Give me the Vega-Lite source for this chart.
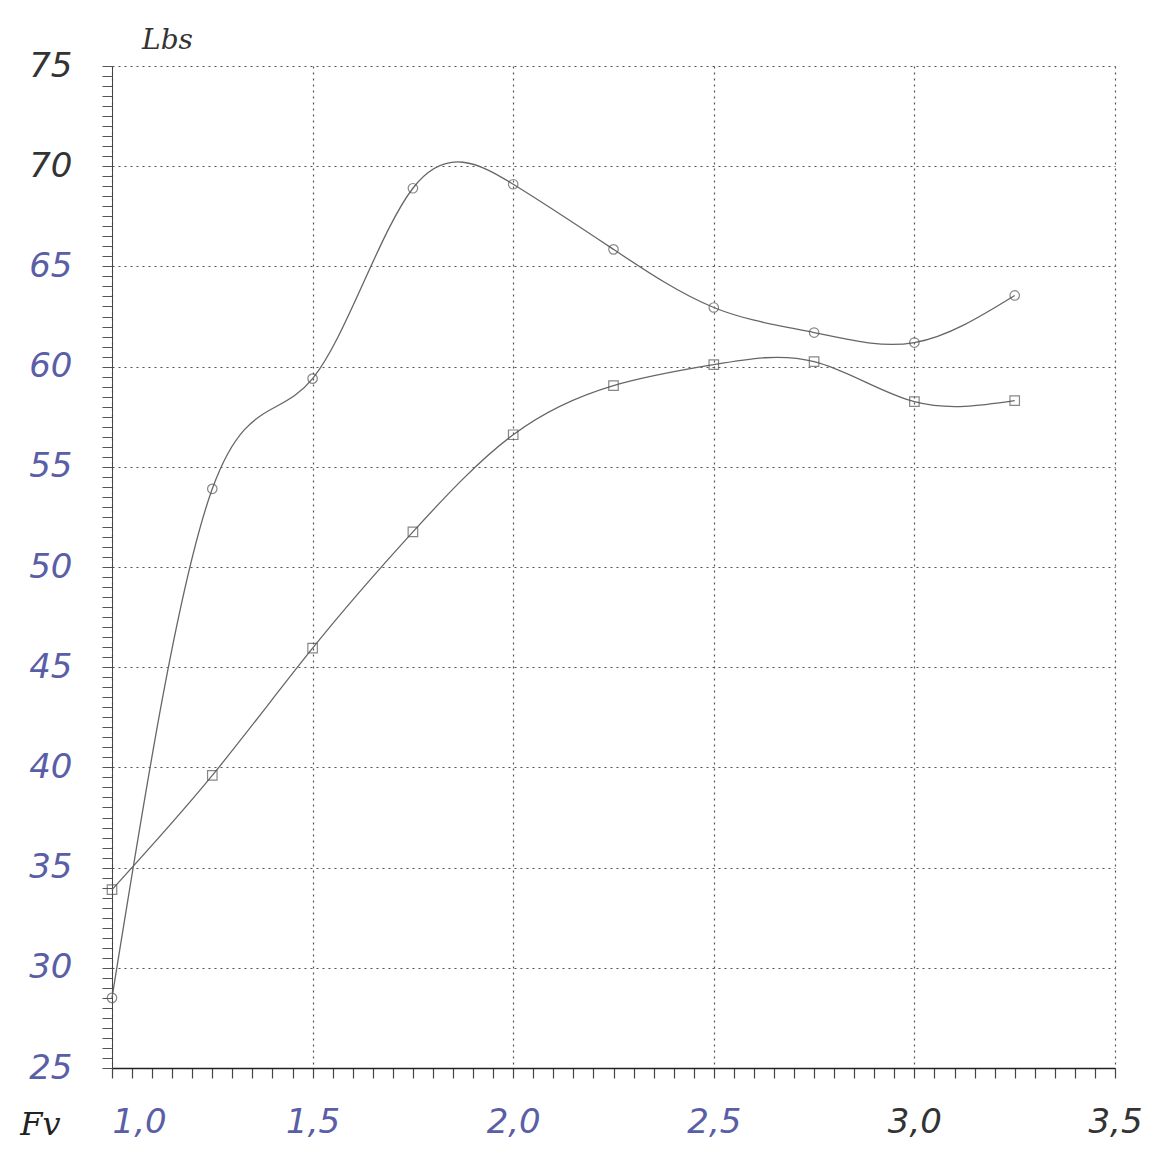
{
  "$schema": "https://vega.github.io/schema/vega-lite/v6.json",
  "width": 1003,
  "height": 1002,
  "autosize": "none",
  "padding": {"left": 112, "top": 66, "right": 45, "bottom": 89},
  "background": "white",
  "config": {"view": {"stroke": null}},
  "data": {"values": [
    {"fv": 1.0, "lbs": 28.5, "series": "circle"},
    {"fv": 1.25, "lbs": 53.9, "series": "circle"},
    {"fv": 1.5, "lbs": 59.4, "series": "circle"},
    {"fv": 1.75, "lbs": 68.9, "series": "circle"},
    {"fv": 2.0, "lbs": 69.1, "series": "circle"},
    {"fv": 2.25, "lbs": 65.85, "series": "circle"},
    {"fv": 2.5, "lbs": 62.95, "series": "circle"},
    {"fv": 2.75, "lbs": 61.7, "series": "circle"},
    {"fv": 3.0, "lbs": 61.2, "series": "circle"},
    {"fv": 3.25, "lbs": 63.55, "series": "circle"},
    {"fv": 1.0, "lbs": 33.9, "series": "square"},
    {"fv": 1.25, "lbs": 39.6, "series": "square"},
    {"fv": 1.5, "lbs": 45.95, "series": "square"},
    {"fv": 1.75, "lbs": 51.75, "series": "square"},
    {"fv": 2.0, "lbs": 56.6, "series": "square"},
    {"fv": 2.25, "lbs": 59.05, "series": "square"},
    {"fv": 2.5, "lbs": 60.1, "series": "square"},
    {"fv": 2.75, "lbs": 60.25, "series": "square"},
    {"fv": 3.0, "lbs": 58.25, "series": "square"},
    {"fv": 3.25, "lbs": 58.3, "series": "square"}
  ]},
  "encoding": {
    "x": {
      "field": "fv", "type": "quantitative",
      "scale": {"domain": [1, 3.5], "nice": false, "zero": false},
      "axis": {
        "title": "Fv",
        "titleX": -72, "titleY": 56,
        "titleAlign": "center", "titleBaseline": "middle", "titleAngle": 0,
        "titleFont": "DejaVu Serif", "titleFontStyle": "italic", "titleFontWeight": "normal",
        "titleFontSize": 32, "titleColor": "#222",
        "tickCount": 50,
        "tickSize": 10, "tickColor": "#444", "tickWidth": 1.2,
        "domainColor": "#222", "domainWidth": 1.5,
        "grid": true,
        "gridColor": "#555", "gridDash": [2, 4], "gridWidth": 1.2,
        "gridOpacity": {"condition": {"test": "abs(datum.value*2 - round(datum.value*2)) < 0.001", "value": 1}, "value": 0},
        "labelExpr": "abs(datum.value*2 - round(datum.value*2)) < 0.001 ? replace(format(datum.value, '.1f'), '.', ',') : ''",
        "labelOverlap": false, "labelFlush": false,
        "labelAlign": {"condition": {"test": "datum.value < 1.01", "value": "left"}, "value": "center"},
        "labelFont": "DejaVu Sans", "labelFontStyle": "italic", "labelFontSize": 34,
        "labelColor": {"condition": {"test": "datum.value > 2.9", "value": "#333"}, "value": "#5a5ea6"},
        "labelPadding": 27
      }
    },
    "y": {
      "field": "lbs", "type": "quantitative",
      "scale": {"domain": [25, 75], "nice": false, "zero": false},
      "axis": {
        "title": "Lbs",
        "titleX": 55, "titleY": -26,
        "titleAlign": "center", "titleBaseline": "middle", "titleAngle": 0,
        "titleFont": "DejaVu Serif", "titleFontStyle": "italic", "titleFontWeight": "normal",
        "titleFontSize": 28, "titleColor": "#333",
        "tickCount": 100,
        "tickSize": 10, "tickColor": "#555", "tickWidth": 1,
        "domainColor": "#444", "domainWidth": 1,
        "grid": true,
        "gridColor": "#555", "gridDash": [2, 4], "gridWidth": 1.2,
        "gridOpacity": {"condition": {"test": "abs(datum.value/5 - round(datum.value/5)) < 0.001", "value": 1}, "value": 0},
        "labelExpr": "abs(datum.value/5 - round(datum.value/5)) < 0.001 ? format(datum.value, 'd') : ''",
        "labelOverlap": false, "labelFlush": false,
        "labelFont": "DejaVu Sans", "labelFontStyle": "italic", "labelFontSize": 34,
        "labelColor": {"condition": {"test": "datum.value > 67", "value": "#333"}, "value": "#5a5ea6"},
        "labelPadding": 30
      }
    }
  },
  "layer": [
    {
      "mark": {"type": "line", "interpolate": "natural", "color": "#666", "strokeWidth": 1.3},
      "encoding": {"detail": {"field": "series", "type": "nominal"}}
    },
    {
      "mark": {"type": "point", "filled": false, "color": "#555", "strokeWidth": 1.2, "size": 90},
      "encoding": {
        "shape": {"field": "series", "type": "nominal", "scale": {"domain": ["circle", "square"], "range": ["circle", "square"]}, "legend": null}
      }
    }
  ]
}
